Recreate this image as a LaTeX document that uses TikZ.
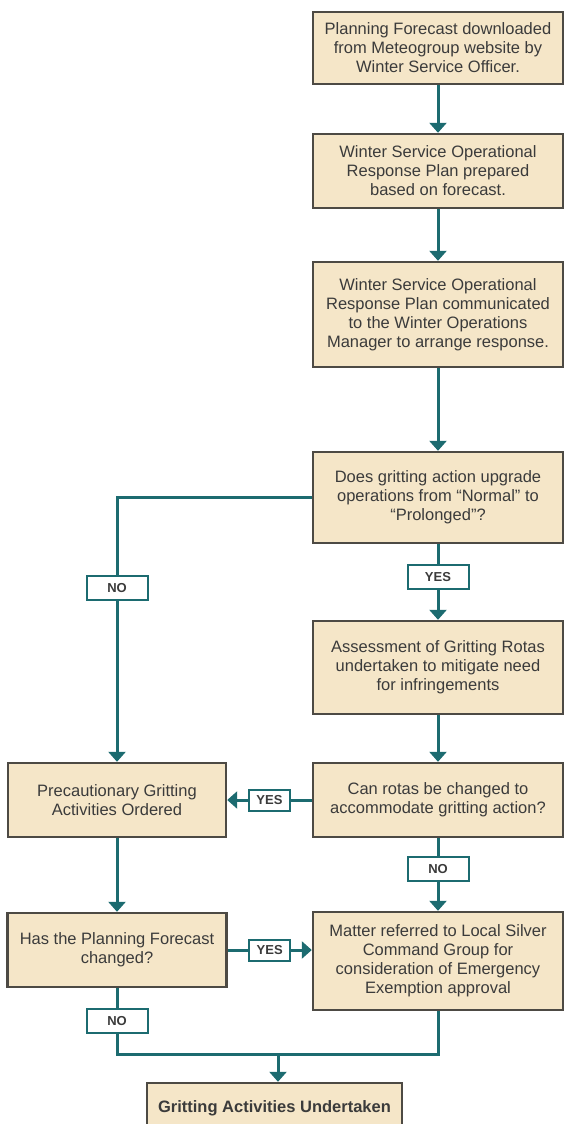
\documentclass[tikz,border=0pt]{standalone}
\usepackage{fontspec}
\setmainfont{Liberation Sans}
\usetikzlibrary{arrows.meta}
\definecolor{boxfill}{HTML}{F5E6C8}
\definecolor{boxline}{HTML}{4D4A44}
\definecolor{flowteal}{HTML}{1C6B70}
\definecolor{textgrey}{HTML}{3B3B3B}

\begin{document}
\begin{tikzpicture}[x=1pt,y=-1pt,
    stage/.style={draw=boxline, line width=2.4pt, fill=boxfill, text=textgrey, align=center,
      inner sep=0pt, minimum width=250pt, font=\fontsize{16.5}{19}\selectfont},
    flow/.style={draw=flowteal, line width=3pt, -{Triangle[width=17pt,length=10pt]}},
    link/.style={draw=flowteal, line width=3pt},
    answer/.style={draw=flowteal, line width=2pt, fill=white, text=textgrey, inner sep=0pt,
      minimum width=61pt, minimum height=24pt, font=\fontsize{13}{13}\selectfont\bfseries},
    sideanswer/.style={answer, minimum width=41pt, minimum height=21pt}]
          \useasboundingbox (0,0) rectangle (564,1124);
          \clip (0,0) rectangle (564,1124);
          % right column
          \node[stage, minimum height=72pt] (plan) at (438,48) {Planning Forecast downloaded\\from Meteogroup website by\\Winter Service Officer.};
          \node[stage, minimum height=74pt] (prepare) at (438,171) {Winter Service Operational\\Response Plan prepared\\based on forecast.};
          \node[stage, minimum height=105pt] (inform) at (438,314.5) {Winter Service Operational\\Response Plan communicated\\to the Winter Operations\\Manager to arrange response.};
          \node[stage, minimum height=91pt] (upgrade) at (438,497.5) {Does gritting action upgrade\\operations from “Normal” to\\“Prolonged”?};
          \node[stage, minimum height=93pt] (assess) at (438,667.5) {Assessment of Gritting Rotas\\undertaken to mitigate need\\for infringements};
          \node[stage, minimum height=74pt] (rotas) at (438,800) {Can rotas be changed to\\accommodate gritting action?};
          \node[stage, minimum height=98pt] (refer) at (438,961) {Matter referred to Local Silver\\Command Group for\\consideration of Emergency\\Exemption approval};
          % left column
          \node[stage, minimum width=218pt, minimum height=74pt] (precaution) at (117,800) {Precautionary Gritting\\Activities Ordered};
          \node[stage, minimum width=219pt, minimum height=74pt] (changed) at (117,950) {Has the Planning Forecast\\changed?};
          % end
          \node[stage, minimum width=255pt, minimum height=50pt, font=\fontsize{16.5}{19}\selectfont\bfseries] (gritting) at (274.5,1108) {Gritting Activities Undertaken};
          % connectors
          \draw[flow] (plan) -- (prepare);
          \draw[flow] (prepare) -- (inform);
          \draw[flow] (inform) -- (upgrade);
          \draw[flow] (upgrade.west) -| node[answer, pos=0.671] (upno) {NO} (precaution.north);
          \draw[flow] (upgrade) -- node[answer, pos=0.43] (upyes) {YES} (assess);
          \draw[flow] (assess) -- (rotas);
          \draw[flow] (rotas) -- node[sideanswer] (rotasyes) {YES} (precaution);
          \draw[flow] (rotas) -- node[answer, pos=0.42] (rotasno) {NO} (refer);
          \draw[flow] (precaution) -- (changed);
          \draw[flow] (changed.east) -- node[sideanswer] (changedyes) {YES} (refer.west |- changed.east);
          % merge
          \coordinate (merge) at (278,1054);
          \draw[link] (changed.south) |- node[answer, pos=0.25] (changedno) {NO} (merge) -| (refer.south);
          \draw[flow] (merge) -- (merge |- gritting.north);
        \end{tikzpicture}
\end{document}
